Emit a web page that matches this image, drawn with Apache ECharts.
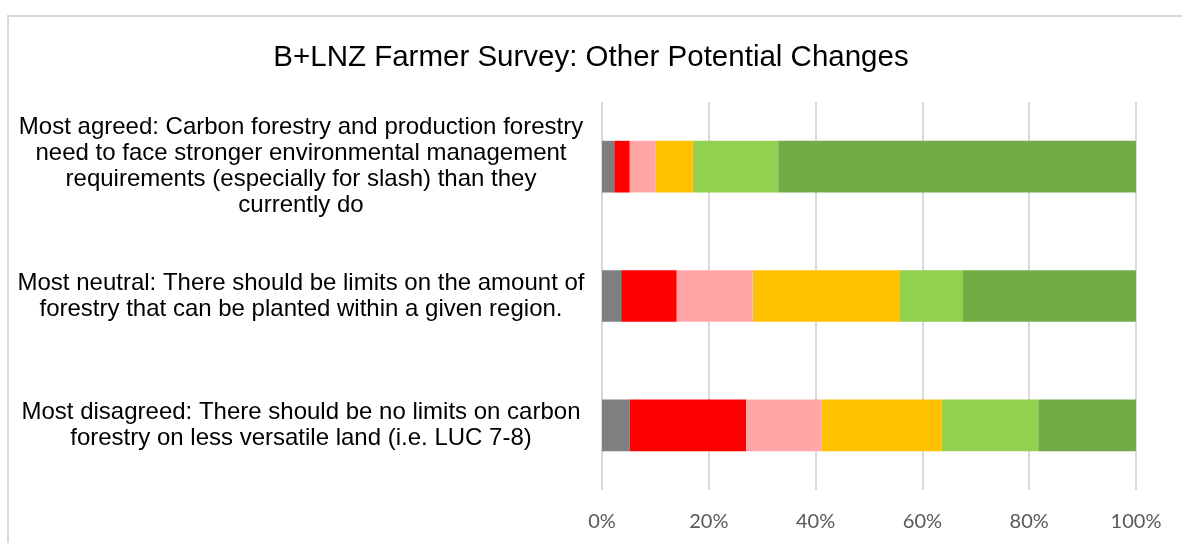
<!DOCTYPE html>
<html>
<head>
<meta charset="utf-8">
<script src="https://cdn.jsdelivr.net/npm/echarts@6/dist/echarts.min.js"></script>
<style>
html,body{margin:0;padding:0;background:#fff;}
#frame{position:absolute;left:7px;top:15px;width:1300px;height:700px;border-top:2px solid #d9d9d9;border-left:2px solid #d9d9d9;box-sizing:border-box;}
#chart{position:absolute;left:0;top:0;width:1182px;height:543px;}
</style>
</head>
<body>
<div id="frame"></div>
<div id="chart"></div>
<script>
var title = 'B+LNZ Farmer Survey: Other Potential Changes';
var categories = [
  'Most agreed: Carbon forestry and production forestry\nneed to face stronger environmental management\nrequirements (especially for slash) than they\ncurrently do',
  'Most neutral: There should be limits on the amount of\nforestry that can be planted within a given region.',
  'Most disagreed: There should be no limits on carbon\nforestry on less versatile land (i.e. LUC 7-8)'
];
var seriesNames = ['No answer', 'Strongly disagree', 'Disagree', 'Neutral', 'Agree', 'Strongly agree'];
var seriesColors = ['#7f7f7f', '#ff0000', '#ffa6a6', '#ffc000', '#92d050', '#70ad47'];
var noAnswer        = [2.3, 3.6, 5.2];
var stronglyDisagree= [2.9, 10.4, 21.8];
var disagree        = [4.8, 14.2, 14.1];
var neutral         = [7.0, 27.6, 22.5];
var agree           = [16.0, 11.8, 18.1];
var stronglyAgree   = [67.0, 32.4, 18.3];
var xTicks = [0, 20, 40, 60, 80, 100];

var values = [noAnswer, stronglyDisagree, disagree, neutral, agree, stronglyAgree];
var chart = echarts.init(document.getElementById('chart'), null, {renderer: 'canvas'});
chart.setOption({
  animation: false,
  backgroundColor: 'transparent',
  title: {
    text: title,
    left: 'center',
    top: 38,
    textStyle: {fontFamily: 'Liberation Sans', fontSize: 29.5, fontWeight: 'normal', color: '#000'}
  },
  grid: {left: 602, right: 46, top: 102, bottom: 53, containLabel: false},
  xAxis: {
    type: 'value',
    min: xTicks[0],
    max: xTicks[xTicks.length - 1],
    interval: xTicks[1] - xTicks[0],
    axisLine: {show: false},
    axisTick: {show: false},
    splitLine: {show: true, lineStyle: {color: '#d9d9d9', width: 2}},
    axisLabel: {formatter: '{value}%', color: '#595959', fontFamily: 'Lato', fontSize: 20, margin: 22}
  },
  yAxis: {
    type: 'category',
    inverse: true,
    data: categories,
    axisLine: {show: false},
    axisTick: {show: false},
    axisLabel: {
      align: 'center',
      margin: 301,
      color: '#000',
      fontFamily: 'Liberation Sans',
      fontSize: 24,
      lineHeight: 26
    }
  },
  series: values.map(function (v, i) {
    return {
      name: seriesNames[i],
      type: 'bar',
      stack: 'total',
      barCategoryGap: '60%',
      itemStyle: {color: seriesColors[i]},
      data: v
    };
  })
});
</script>
</body>
</html>
